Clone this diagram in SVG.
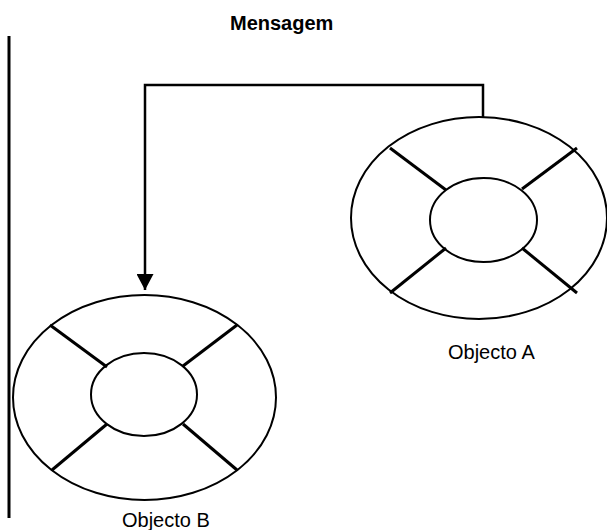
<svg xmlns="http://www.w3.org/2000/svg" width="607" height="530" viewBox="0 0 607 530">
  <defs>
    <marker id="arrow" viewBox="0 0 16 17" refX="16" refY="8.5" markerWidth="16" markerHeight="17" markerUnits="userSpaceOnUse" orient="auto">
      <path d="M0,0 L16,8.5 L0,17 Z" fill="#000"/>
    </marker>
    <style>
      .ring { fill: none; stroke: #000; stroke-width: 2; }
      .spoke { stroke: #000; stroke-width: 3; stroke-linecap: butt; }
      .label { font-family: "Liberation Sans", Arial, sans-serif; font-size: 20px; fill: #000; }
      .wire { fill: none; stroke: #000; stroke-width: 2.5; }
    </style>
  </defs>
  <rect width="607" height="530" fill="#fff"/>

  <!-- boundary line on the left -->
  <line x1="9" y1="36" x2="9" y2="518" stroke="#000" stroke-width="3"/>

  <text class="label" x="230" y="30" font-weight="bold" font-size="19.5">Mensagem</text>

  <g id="connectors">
    <polyline class="wire" points="483,117 483,85 145,85 145,290" marker-end="url(#arrow)"/>
  </g>

  <g id="objecto-a">
    <ellipse class="ring" cx="479" cy="218" rx="128" ry="101"/>
    <ellipse class="ring" cx="483.5" cy="220" rx="53.5" ry="42"/>
    <line class="spoke" x1="390" y1="148" x2="446" y2="190"/>
    <line class="spoke" x1="577" y1="148" x2="522" y2="189"/>
    <line class="spoke" x1="390" y1="293" x2="446" y2="248"/>
    <line class="spoke" x1="577" y1="293" x2="522" y2="248"/>
    <text class="label" x="448" y="359">Objecto A</text>
  </g>

  <g id="objecto-b">
    <ellipse class="ring" cx="144.5" cy="397.5" rx="131.5" ry="102.5"/>
    <ellipse class="ring" cx="144" cy="394.5" rx="53" ry="41.5"/>
    <line class="spoke" x1="50" y1="325" x2="107" y2="367"/>
    <line class="spoke" x1="237" y1="325" x2="183" y2="366"/>
    <line class="spoke" x1="52" y1="470" x2="107" y2="424"/>
    <line class="spoke" x1="237" y1="470" x2="183" y2="424"/>
    <text class="label" x="122" y="527">Objecto B</text>
  </g>
</svg>
